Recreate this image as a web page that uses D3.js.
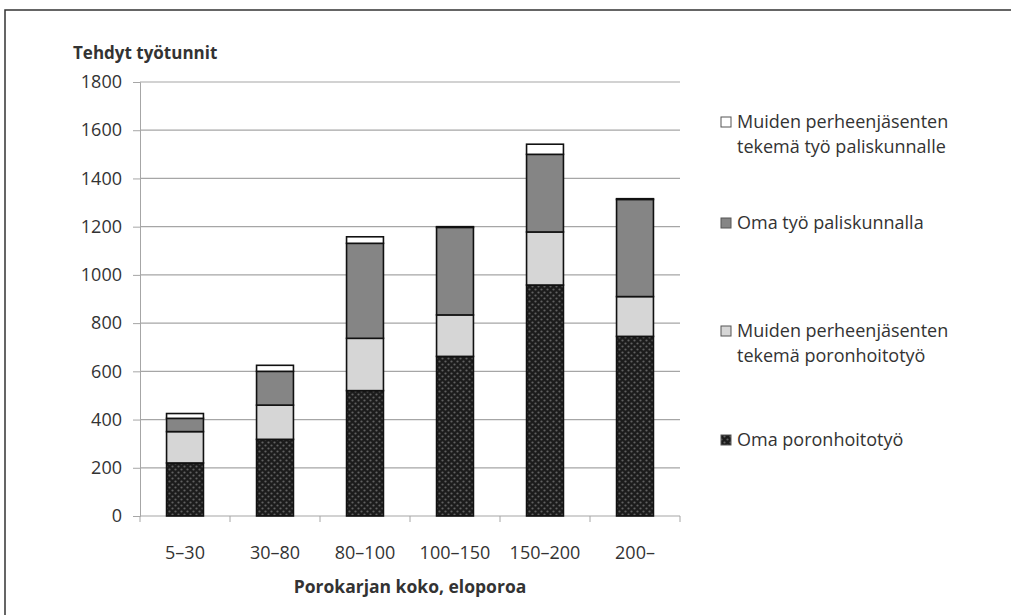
<!DOCTYPE html>
<html>
<head>
<meta charset="utf-8">
<script src="https://cdn.jsdelivr.net/npm/d3@7"></script>
<style>
  body { margin: 0; background: #fff; }
  svg text { font-family: "Open Sans", "Noto Sans", sans-serif; fill: #333; }
</style>
</head>
<body>
<div id="wrapper"></div>
<script>
var categories = ["5–30", "30–80", "80–100", "100–150", "150–200", "200–"];
var omaPoronhoito = [220, 318, 520, 662, 958, 745];
var muidenPoronhoito = [130, 142, 217, 172, 220, 165];
var omaPaliskunta = [55, 140, 394, 363, 322, 403];
var muidenPaliskunta = [20, 25, 27, 3, 42, 3];
var yTicks = [0, 200, 400, 600, 800, 1000, 1200, 1400, 1600, 1800];

var seriesKeys = ["oma", "muidenHoito", "omaPal", "muidenPal"];
var legendItems = [
	{key: "muidenPal", lines: ["Muiden perheenjäsenten", "tekemä työ paliskunnalle"], y: 128},
	{key: "omaPal", lines: ["Oma työ paliskunnalla"], y: 229},
	{key: "muidenHoito", lines: ["Muiden perheenjäsenten", "tekemä poronhoitotyö"], y: 337},
	{key: "oma", lines: ["Oma poronhoitotyö"], y: 446}
];
var fills = {
	"oma": "url(#dots)",
	"muidenHoito": "#d6d6d6",
	"omaPal": "#858585",
	"muidenPal": "#ffffff"
};

var W = 1011, H = 615;
var plot = {left: 140, right: 680, top: 82, bottom: 516};

var svg = d3.select("#wrapper").append("svg")
	.attr("width", W)
	.attr("height", H);

// dotted fill for the dark series
var pat = svg.append("defs").append("pattern")
	.attr("id", "dots")
	.attr("patternUnits", "userSpaceOnUse")
	.attr("width", 6).attr("height", 6);
pat.append("rect").attr("width", 6).attr("height", 6).attr("fill", "#1c1c1c");
pat.append("circle").attr("cx", 1.5).attr("cy", 1.5).attr("r", 1.1).attr("fill", "#616161");
pat.append("circle").attr("cx", 4.5).attr("cy", 4.5).attr("r", 1.1).attr("fill", "#616161");

// frame
svg.append("path")
	.attr("d", "M5," + H + " L5,10 L" + W + ",10")
	.attr("fill", "none")
	.attr("stroke", "#333")
	.attr("stroke-width", 1.5);

var table = categories.map(function(c, i) {
	return {cat: c, oma: omaPoronhoito[i], muidenHoito: muidenPoronhoito[i],
		omaPal: omaPaliskunta[i], muidenPal: muidenPaliskunta[i]};
});

var x = d3.scaleBand()
	.domain(categories)
	.range([plot.left, plot.right])
	.paddingInner(0.59)
	.paddingOuter(0.295);

var y = d3.scaleLinear()
	.domain([0, 1800])
	.range([plot.bottom, plot.top]);

// gridlines
svg.append("g")
	.selectAll("line")
	.data(yTicks.slice(1))
	.enter()
	.append("line")
	.attr("x1", plot.left).attr("x2", plot.right)
	.attr("y1", function(d) { return y(d); })
	.attr("y2", function(d) { return y(d); })
	.attr("stroke", "#a6a6a6")
	.attr("stroke-width", 1.2);

// y axis
var yAxis = svg.append("g")
	.attr("transform", "translate(" + plot.left + ",0)")
	.call(d3.axisLeft(y).tickValues(yTicks).tickFormat(d3.format("d")).tickSize(7).tickPadding(11));
yAxis.select(".domain").attr("stroke", "#a6a6a6");
yAxis.selectAll(".tick line").attr("stroke", "#a6a6a6");
yAxis.selectAll("text").style("font-size", "18px").attr("fill", "#333");

// x axis, ticks at category boundaries
var xAxis = svg.append("g")
	.attr("transform", "translate(0," + plot.bottom + ")");
xAxis.append("line")
	.attr("x1", plot.left).attr("x2", plot.right)
	.attr("stroke", "#a6a6a6").attr("stroke-width", 1.2);
xAxis.selectAll("line.tk")
	.data(d3.range(categories.length + 1))
	.enter()
	.append("line")
	.attr("class", "tk")
	.attr("x1", function(i) { return plot.left + i * x.step(); })
	.attr("x2", function(i) { return plot.left + i * x.step(); })
	.attr("y1", 0).attr("y2", 6)
	.attr("stroke", "#a6a6a6");
xAxis.selectAll("text")
	.data(categories)
	.enter()
	.append("text")
	.attr("x", function(d) { return x(d) + x.bandwidth() / 2; })
	.attr("y", 43)
	.attr("text-anchor", "middle")
	.style("font-size", "18px")
	.text(function(d) { return d; });

// stacked bars
var stack = d3.stack().keys(seriesKeys)(table);
svg.append("g")
	.selectAll("g")
	.data(stack)
	.enter()
	.append("g")
	.attr("fill", function(s) { return fills[s.key]; })
	.selectAll("rect")
	.data(function(s) { return s; })
	.enter()
	.append("rect")
	.attr("x", function(d) { return x(d.data.cat); })
	.attr("y", function(d) { return y(d[1]); })
	.attr("width", x.bandwidth())
	.attr("height", function(d) { return y(d[0]) - y(d[1]); })
	.attr("stroke", "#111")
	.attr("stroke-width", 1.6);

// axis titles
svg.append("text")
	.attr("x", 73).attr("y", 59)
	.style("font-size", "17px")
	.style("font-weight", "bold")
	.text("Tehdyt työtunnit");

svg.append("text")
	.attr("x", 410).attr("y", 593)
	.attr("text-anchor", "middle")
	.style("font-size", "17.5px")
	.style("font-weight", "bold")
	.text("Porokarjan koko, eloporoa");

// legend
var leg = svg.append("g");
legendItems.forEach(function(it) {
	leg.append("rect")
		.attr("x", 721).attr("y", it.y - 11)
		.attr("width", 10).attr("height", 10)
		.attr("fill", fills[it.key])
		.attr("stroke", "#555")
		.attr("stroke-width", 1);
	it.lines.forEach(function(line, j) {
		leg.append("text")
			.attr("x", 737).attr("y", it.y + j * 25)
			.style("font-size", "18px")
			.text(line);
	});
});
</script>
</body>
</html>
